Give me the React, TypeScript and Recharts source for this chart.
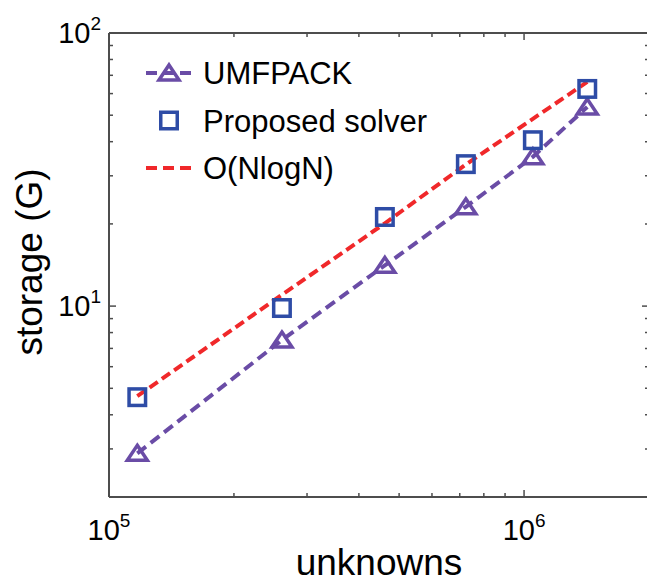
import React from 'react';
import { ComposedChart, Line, XAxis, YAxis, Legend } from 'recharts';

// values (log-log)
const unknowns = [1.17e5, 2.61e5, 4.62e5, 7.24e5, 1.05e6, 1.42e6];
const umfpack = [2.89, 7.51, 14.1, 23.1, 35.2, 53.6];
const proposed = [4.64, 9.84, 21.2, 33.1, 40.5, 62.4];
const nlogn = [4.68, 11.0, 20.1, 33.0, 48.5, 66.2];

const xTicks = [1e5, 2e5, 3e5, 4e5, 5e5, 6e5, 7e5, 8e5, 9e5, 1e6, 2e6];
const yTicks = [2, 3, 4, 5, 6, 7, 8, 9, 10, 20, 30, 40, 50, 60, 70, 80, 90, 100];
const xLabelled = [1e5, 1e6];
const yLabelled = [10, 100];

const data = unknowns.map((n, i) => ({
  n,
  umf: umfpack[i],
  prop: proposed[i],
  ref: nlogn[i],
}));

const FONT = '"Liberation Sans", Arial, Helvetica, sans-serif';
const AXIS = '#4d4d4d';
const PURPLE = '#6a4ca6';
const BLUE = '#2e4ca6';
const RED = '#f0282a';

const Pow = ({ x, y, exp, anchor }: any) => (
  <text x={x} y={y} textAnchor={anchor} fontFamily={FONT} fontSize={29} fill="#000">
    10
    <tspan dy={-13} fontSize={19}>{exp}</tspan>
  </text>
);

const BottomTick = (props: any) => {
  const { x, y, payload } = props;
  const major = xLabelled.includes(payload.value);
  return (
    <g>
      <line x1={x} x2={x} y1={y} y2={y - (major ? 7 : 4)} stroke={AXIS} strokeWidth={1.5} />
      {major && <Pow x={x} y={y + 43} exp={Math.round(Math.log10(payload.value))} anchor="middle" />}
    </g>
  );
};

const TopTick = (props: any) => {
  const { x, y, payload } = props;
  const major = xLabelled.includes(payload.value);
  return <line x1={x} x2={x} y1={y} y2={y + (major ? 7 : 4)} stroke={AXIS} strokeWidth={1.5} />;
};

const LeftTick = (props: any) => {
  const { x, y, payload } = props;
  const major = yLabelled.includes(payload.value);
  return (
    <g>
      <line x1={x} x2={x + (major ? 7 : 4)} y1={y} y2={y} stroke={AXIS} strokeWidth={1.5} />
      {major && <Pow x={x - 8} y={y + 10} exp={Math.round(Math.log10(payload.value))} anchor="end" />}
    </g>
  );
};

const RightTick = (props: any) => {
  const { x, y, payload } = props;
  const major = yLabelled.includes(payload.value);
  return <line x1={x} x2={x - (major ? 7 : 4)} y1={y} y2={y} stroke={AXIS} strokeWidth={1.5} />;
};

const Triangle = ({ cx, cy, color }: any) => (
  <path
    d={`M${cx},${cy - 8} L${cx + 10},${cy + 7} L${cx - 10},${cy + 7} Z`}
    fill="none"
    stroke={color}
    strokeWidth={3.5}
    strokeLinejoin="miter"
  />
);

const Square = ({ cx, cy, color }: any) => (
  <rect x={cx - 8.25} y={cy - 8.25} width={16.5} height={16.5} fill="none" stroke={color} strokeWidth={3.5} />
);

const legendItems = [
  { name: 'UMFPACK', color: PURPLE, dash: '11 6', marker: 'triangle' },
  { name: 'Proposed solver', color: BLUE, dash: null, marker: 'square' },
  { name: 'O(NlogN)', color: RED, dash: '11 6', marker: null },
];

const LegendBox = () => (
  <svg width={460} height={200} style={{ display: 'block' }}>
    {legendItems.map((it, i) => {
      const cy = 73 + i * 47.5;
      return (
        <g key={it.name}>
          {it.dash && (
            <line x1={146} x2={197} y1={cy} y2={cy} stroke={it.color} strokeWidth={4} strokeDasharray={it.dash} />
          )}
          {it.marker === 'triangle' && <Triangle cx={169} cy={cy} color={it.color} />}
          {it.marker === 'square' && <Square cx={169} cy={cy} color={it.color} />}
          <text x={203} y={cy + 11} fontFamily={FONT} fontSize={31} fill="#000">
            {it.name}
          </text>
        </g>
      );
    })}
  </svg>
);

export default function App() {
  return (
    <div
      style={{
        position: 'absolute',
        left: 0,
        top: 0,
        width: 647,
        height: 588,
        overflow: 'hidden',
        background: '#fff',
      }}
    >
      <ComposedChart width={662} height={588} data={data} margin={{ top: 0, right: 0, bottom: 0, left: 0 }}>
        <XAxis
          xAxisId="b"
          dataKey="n"
          type="number"
          scale="log"
          domain={[1e5, 2e6]}
          ticks={xTicks}
          allowDataOverflow
          height={91}
          tickSize={0}
          tickMargin={0}
          tickLine={false}
          tick={<BottomTick />}
          interval={0}
          axisLine={{ stroke: AXIS, strokeWidth: 2 }}
          label={(p: any) => (
            <text
              x={p.viewBox.x + p.viewBox.width / 2}
              y={p.viewBox.y + 78}
              textAnchor="middle"
              fontFamily={FONT}
              fontSize={37}
              fill="#000"
            >
              unknowns
            </text>
          )}
        />
        <XAxis
          xAxisId="t"
          orientation="top"
          dataKey="n"
          type="number"
          scale="log"
          domain={[1e5, 2e6]}
          ticks={xTicks}
          allowDataOverflow
          height={33}
          tickSize={0}
          tickMargin={0}
          tickLine={false}
          tick={<TopTick />}
          interval={0}
          axisLine={{ stroke: AXIS, strokeWidth: 2 }}
        />
        <YAxis
          yAxisId="l"
          type="number"
          scale="log"
          domain={[2, 100]}
          ticks={yTicks}
          allowDataOverflow
          width={109}
          tickSize={0}
          tickMargin={0}
          tickLine={false}
          tick={<LeftTick />}
          interval={0}
          axisLine={{ stroke: AXIS, strokeWidth: 2 }}
          label={(p: any) => {
            const cy = p.viewBox.y + p.viewBox.height / 2 - 3;
            return (
              <text
                x={42}
                y={cy}
                transform={`rotate(-90, 42, ${cy})`}
                textAnchor="middle"
                fontFamily={FONT}
                fontSize={37}
                fill="#000"
              >
                storage (G)
              </text>
            );
          }}
        />
        <YAxis
          yAxisId="r"
          orientation="right"
          type="number"
          scale="log"
          domain={[2, 100]}
          ticks={yTicks}
          allowDataOverflow
          width={13}
          tickSize={0}
          tickMargin={0}
          tickLine={false}
          tick={<RightTick />}
          interval={0}
          axisLine={{ stroke: AXIS, strokeWidth: 2 }}
        />
        <Legend
          layout="vertical"
          align="center"
          verticalAlign="middle"
          wrapperStyle={{ left: 0, top: 0, width: 460, height: 200 }}
          content={() => <LegendBox />}
        />
        <Line
          xAxisId="b"
          yAxisId="l"
          dataKey="umf"
          name="UMFPACK"
          stroke={PURPLE}
          strokeWidth={4}
          strokeDasharray="11 6"
          isAnimationActive={false}
          activeDot={false}
          dot={(p: any) => <Triangle key={`t${p.index}`} cx={p.cx} cy={p.cy} color={PURPLE} />}
        />
        <Line
          xAxisId="b"
          yAxisId="l"
          dataKey="prop"
          name="Proposed solver"
          stroke="none"
          isAnimationActive={false}
          activeDot={false}
          dot={(p: any) => <Square key={`s${p.index}`} cx={p.cx} cy={p.cy} color={BLUE} />}
        />
        <Line
          xAxisId="b"
          yAxisId="l"
          dataKey="ref"
          name="O(NlogN)"
          stroke={RED}
          strokeWidth={4}
          strokeDasharray="10 5"
          dot={false}
          activeDot={false}
          isAnimationActive={false}
        />
      </ComposedChart>
    </div>
  );
}
